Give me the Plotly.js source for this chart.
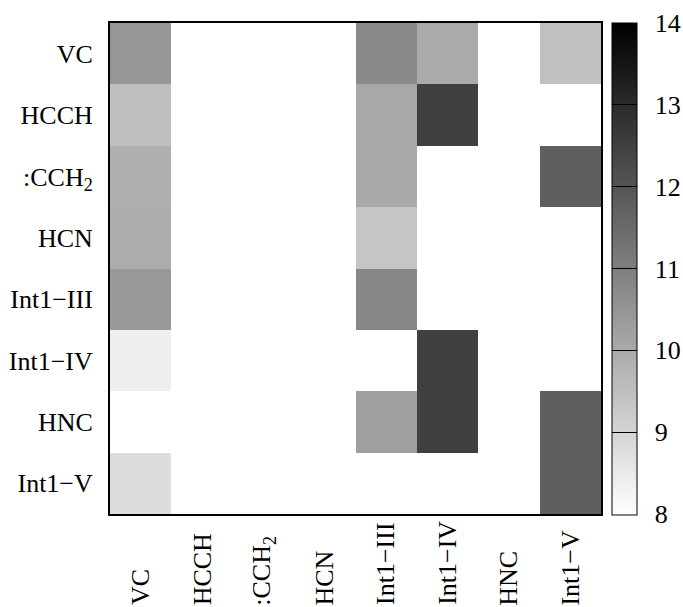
<!DOCTYPE html>
<html>
<head>
<meta charset="utf-8">
<script src="https://cdn.plot.ly/plotly-3.0.1.min.js"></script>
<style>html,body{margin:0;padding:0;background:#fff;}</style>
</head>
<body>
<div id="chart" style="width:683px;height:607px;"></div>
<script>
// Category labels (rows top-to-bottom, columns left-to-right)
const rowLabels = ["VC", "HCCH", ":CCH<sub>2</sub>", "HCN", "Int1\u2212III", "Int1\u2212IV", "HNC", "Int1\u2212V"];
const colLabels = ["VC", "HCCH", ":CCH<sub>2</sub>", "HCN", "Int1\u2212III", "Int1\u2212IV", "HNC", "Int1\u2212V"];

// Values per row (null = empty cell)
const rowVC    = [10.47, null, null, null, 10.75, 10.0,  null, 9.48];
const rowHCCH  = [9.5,   null, null, null, 10.05, 12.49, null, null];
const rowCCH2  = [9.86,  null, null, null, 10.02, null,  null, 11.76];
const rowHCN   = [9.95,  null, null, null, 9.36,  null,  null, null];
const rowInt3  = [10.4,  null, null, null, 10.82, null,  null, null];
const rowInt4  = [8.4,   null, null, null, null,  12.49, null, null];
const rowHNC   = [null,  null, null, null, 10.24, 12.49, null, 11.76];
const rowInt5  = [8.8,   null, null, null, null,  null,  null, 11.76];

const colorTicks = [8, 9, 10, 11, 12, 13, 14];
const colorRange = [8, 14];

const z = [rowVC, rowHCCH, rowCCH2, rowHCN, rowInt3, rowInt4, rowHNC, rowInt5];

const font = {family: "Liberation Serif, serif", color: "#000", size: 26};

const trace = {
  type: "heatmap",
  x: colLabels, y: rowLabels, z: z,
  zmin: colorRange[0], zmax: colorRange[1],
  colorscale: [[0, "#ffffff"], [1, "#000000"]],
  hoverinfo: "skip",
  colorbar: {
    x: 0.8917, xanchor: "left", xpad: 0,
    y: 0.5, yanchor: "middle", ypad: 0,
    len: 1.002, lenmode: "fraction",
    thickness: 25, thicknessmode: "pixels",
    outlinewidth: 1, outlinecolor: "#000",
    tickmode: "array", tickvals: colorTicks,
    ticks: "inside", ticklen: 25, tickwidth: 1, tickcolor: "#000",
    showticklabels: false
  }
};

// invisible trace so the colour-scale axis (yaxis2) is drawn
const scaleTrace = {
  type: "scatter", mode: "markers",
  x: [colLabels[0], colLabels[0]], y: colorRange,
  yaxis: "y2", marker: {opacity: 0}, hoverinfo: "skip", showlegend: false
};

const annotations = colLabels.map(function (lab) {
  return {
    x: lab, xref: "x", y: -0.19, yref: "paper",
    text: lab, textangle: -90, showarrow: false,
    xanchor: "center", yanchor: "bottom",
    font: font
  };
});

const layout = {
  width: 683, height: 607,
  margin: {l: 110, r: 10, t: 23, b: 93, pad: 0, autoexpand: false},
  paper_bgcolor: "#fff", plot_bgcolor: "#fff",
  font: font,
  showlegend: false,
  xaxis: {
    type: "category", domain: [0, 0.8721], showticklabels: false, ticks: "",
    showline: true, mirror: true, linewidth: 2, linecolor: "#000",
    showgrid: false, zeroline: false, fixedrange: true
  },
  yaxis: {
    type: "category", autorange: "reversed",
    ticks: "outside", ticklen: 10, tickcolor: "rgba(0,0,0,0)",
    showline: true, mirror: true, linewidth: 2, linecolor: "#000",
    showgrid: false, zeroline: false, tickfont: font, fixedrange: true
  },
  // axis carrying the colour bar's numbers
  yaxis2: {
    overlaying: "y", anchor: "free", position: 0.966, side: "right",
    range: colorRange, tickmode: "array", tickvals: colorTicks,
    ticks: "",
    showline: false, showgrid: false, zeroline: false,
    tickfont: font, fixedrange: true
  },
  annotations: annotations
};

Plotly.newPlot("chart", [trace, scaleTrace], layout, {displayModeBar: false, staticPlot: true});
</script>
</body>
</html>
